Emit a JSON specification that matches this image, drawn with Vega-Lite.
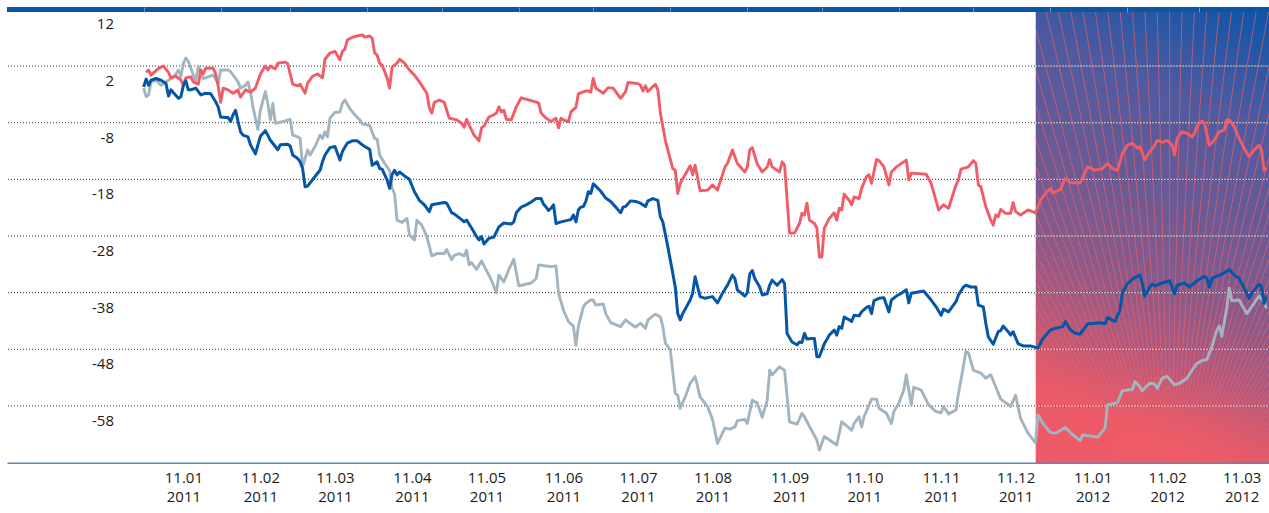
{
  "$schema": "https://vega.github.io/schema/vega-lite/v6.json",
  "width": 1262,
  "height": 453.2,
  "autosize": {"type": "none"},
  "padding": {"left": 7, "top": 9.4, "right": 0, "bottom": 50.4},
  "background": "white",
  "config": {"view": {"stroke": null}, "font": "Open Sans"},
  "datasets": {
    "grid": [{"value": 2}, {"value": -8}, {"value": -18}, {"value": -28}, {"value": -38}, {"value": -48}, {"value": -58}],
    "rays": [
      {"date": "2010-12-25"}, {"date": "2011-01-18"}, {"date": "2011-02-09"}, {"date": "2011-03-01"}, {"date": "2011-03-19"}, {"date": "2011-04-05"}, {"date": "2011-04-21"}, {"date": "2011-05-06"}, {"date": "2011-05-19"}, {"date": "2011-06-01"}, {"date": "2011-06-14"}, {"date": "2011-06-25"}, {"date": "2011-07-06"}, {"date": "2011-07-17"}, {"date": "2011-07-27"}, {"date": "2011-08-05"}, {"date": "2011-08-14"}, {"date": "2011-08-23"}, {"date": "2011-08-31"}, {"date": "2011-09-08"}, {"date": "2011-09-16"}, {"date": "2011-09-24"}, {"date": "2011-10-01"}, {"date": "2011-10-08"}, {"date": "2011-10-15"}, {"date": "2011-10-21"}, {"date": "2011-10-28"}, {"date": "2011-11-03"}, {"date": "2011-11-09"}, {"date": "2011-11-15"}, {"date": "2011-11-21"}, {"date": "2011-11-27"}, {"date": "2011-12-03"}, {"date": "2011-12-08"}, {"date": "2011-12-14"}, {"date": "2011-12-19"}, {"date": "2011-12-24"}, {"date": "2011-12-30"}, {"date": "2012-01-04"}, {"date": "2012-01-09"}, {"date": "2012-01-14"}, {"date": "2012-01-19"}, {"date": "2012-01-24"}, {"date": "2012-01-29"}, {"date": "2012-02-03"}, {"date": "2012-02-08"}, {"date": "2012-02-13"},
      {"date": "2012-02-18"}, {"date": "2012-02-23"}, {"date": "2012-02-28"}, {"date": "2012-03-04"}, {"date": "2012-03-09"}, {"date": "2012-03-14"}, {"date": "2012-03-19"}, {"date": "2012-03-24"}, {"date": "2012-03-29"}, {"date": "2012-04-03"}, {"date": "2012-04-08"}, {"date": "2012-04-14"}, {"date": "2012-04-19"}, {"date": "2012-04-24"}, {"date": "2012-04-30"}, {"date": "2012-05-05"}, {"date": "2012-05-11"}, {"date": "2012-05-17"}, {"date": "2012-05-23"}, {"date": "2012-05-29"}, {"date": "2012-06-04"}, {"date": "2012-06-10"}, {"date": "2012-06-17"}, {"date": "2012-06-23"}, {"date": "2012-06-30"}, {"date": "2012-07-07"}, {"date": "2012-07-14"}, {"date": "2012-07-22"}, {"date": "2012-07-30"}, {"date": "2012-08-07"}, {"date": "2012-08-15"}, {"date": "2012-08-24"}, {"date": "2012-09-02"}, {"date": "2012-09-11"}, {"date": "2012-09-21"}, {"date": "2012-10-02"}, {"date": "2012-10-13"}, {"date": "2012-10-24"}, {"date": "2012-11-06"}, {"date": "2012-11-19"}, {"date": "2012-12-02"}, {"date": "2012-12-17"}
    ],
    "red": [
      {"date": "2011-01-02", "value": 0.9}, {"date": "2011-01-03", "value": 1.3}, {"date": "2011-01-04", "value": 0.4}, {"date": "2011-01-07", "value": 1.6}, {"date": "2011-01-09", "value": 2.0}, {"date": "2011-01-11", "value": 0.9}, {"date": "2011-01-12", "value": -0.1}, {"date": "2011-01-14", "value": 0.2}, {"date": "2011-01-16", "value": -0.5}, {"date": "2011-01-17", "value": -1.4}, {"date": "2011-01-18", "value": -0.1}, {"date": "2011-01-20", "value": 0.1}, {"date": "2011-01-21", "value": -0.8}, {"date": "2011-01-23", "value": -1.2}, {"date": "2011-01-24", "value": 1.3}, {"date": "2011-01-25", "value": 0.6}, {"date": "2011-01-26", "value": 1.6}, {"date": "2011-01-29", "value": 1.6}, {"date": "2011-01-30", "value": 0.6}, {"date": "2011-01-31", "value": -1.5},
      {"date": "2011-02-01", "value": -4.4}, {"date": "2011-02-02", "value": -1.9}, {"date": "2011-02-04", "value": -2.2}, {"date": "2011-02-06", "value": -2.8}, {"date": "2011-02-08", "value": -2.2}, {"date": "2011-02-09", "value": -3.5}, {"date": "2011-02-11", "value": -2.2}, {"date": "2011-02-13", "value": -2.6}, {"date": "2011-02-15", "value": -1.9}, {"date": "2011-02-17", "value": 0.6}, {"date": "2011-02-19", "value": 2.0}, {"date": "2011-02-20", "value": 1.3}, {"date": "2011-02-21", "value": 2.0}, {"date": "2011-02-23", "value": 1.5}, {"date": "2011-02-24", "value": 2.5}, {"date": "2011-02-27", "value": 2.7}, {"date": "2011-02-28", "value": 2.4},
      {"date": "2011-03-02", "value": -1.2}, {"date": "2011-03-04", "value": -1.5}, {"date": "2011-03-05", "value": -1.2}, {"date": "2011-03-07", "value": -2.8}, {"date": "2011-03-08", "value": -1.0}, {"date": "2011-03-10", "value": 0.2}, {"date": "2011-03-12", "value": 0.6}, {"date": "2011-03-14", "value": -0.1}, {"date": "2011-03-15", "value": 3.2}, {"date": "2011-03-17", "value": 4.3}, {"date": "2011-03-19", "value": 4.6}, {"date": "2011-03-21", "value": 3.1}, {"date": "2011-03-22", "value": 4.6}, {"date": "2011-03-23", "value": 5.0}, {"date": "2011-03-24", "value": 6.6}, {"date": "2011-03-26", "value": 7.1}, {"date": "2011-03-28", "value": 7.3}, {"date": "2011-03-30", "value": 7.5}, {"date": "2011-03-31", "value": 7.1},
      {"date": "2011-04-02", "value": 7.3}, {"date": "2011-04-03", "value": 6.9}, {"date": "2011-04-04", "value": 4.3}, {"date": "2011-04-05", "value": 3.9}, {"date": "2011-04-06", "value": 2.5}, {"date": "2011-04-07", "value": 2.2}, {"date": "2011-04-09", "value": -0.1}, {"date": "2011-04-10", "value": -1.9}, {"date": "2011-04-11", "value": 1.8}, {"date": "2011-04-13", "value": 2.5}, {"date": "2011-04-14", "value": 3.2}, {"date": "2011-04-16", "value": 2.5}, {"date": "2011-04-18", "value": 1.3}, {"date": "2011-04-20", "value": 0.4}, {"date": "2011-04-22", "value": -0.8}, {"date": "2011-04-25", "value": -2.8}, {"date": "2011-04-26", "value": -5.4}, {"date": "2011-04-27", "value": -6.3}, {"date": "2011-04-28", "value": -4.4}, {"date": "2011-04-30", "value": -4.0},
      {"date": "2011-05-02", "value": -4.4}, {"date": "2011-05-04", "value": -7.2}, {"date": "2011-05-07", "value": -7.5}, {"date": "2011-05-09", "value": -8.1}, {"date": "2011-05-10", "value": -8.8}, {"date": "2011-05-11", "value": -7.4}, {"date": "2011-05-12", "value": -8.4}, {"date": "2011-05-14", "value": -10.2}, {"date": "2011-05-16", "value": -11.2}, {"date": "2011-05-17", "value": -8.9}, {"date": "2011-05-18", "value": -8.6}, {"date": "2011-05-20", "value": -7.0}, {"date": "2011-05-22", "value": -6.6}, {"date": "2011-05-23", "value": -6.3}, {"date": "2011-05-24", "value": -5.2}, {"date": "2011-05-25", "value": -6.1}, {"date": "2011-05-26", "value": -5.8}, {"date": "2011-05-27", "value": -7.4}, {"date": "2011-05-29", "value": -7.5}, {"date": "2011-05-31", "value": -5.2},
      {"date": "2011-06-02", "value": -3.6}, {"date": "2011-06-06", "value": -4.1}, {"date": "2011-06-09", "value": -4.5}, {"date": "2011-06-10", "value": -6.3}, {"date": "2011-06-12", "value": -7.2}, {"date": "2011-06-14", "value": -7.8}, {"date": "2011-06-16", "value": -7.2}, {"date": "2011-06-17", "value": -8.9}, {"date": "2011-06-18", "value": -7.2}, {"date": "2011-06-19", "value": -7.5}, {"date": "2011-06-21", "value": -7.8}, {"date": "2011-06-22", "value": -6.1}, {"date": "2011-06-24", "value": -5.3}, {"date": "2011-06-25", "value": -2.9}, {"date": "2011-06-28", "value": -2.4}, {"date": "2011-06-29", "value": -2.4}, {"date": "2011-06-30", "value": -2.6},
      {"date": "2011-07-01", "value": -0.2}, {"date": "2011-07-02", "value": -1.9}, {"date": "2011-07-05", "value": -2.8}, {"date": "2011-07-07", "value": -1.8}, {"date": "2011-07-09", "value": -1.9}, {"date": "2011-07-12", "value": -3.7}, {"date": "2011-07-14", "value": -2.5}, {"date": "2011-07-15", "value": -0.9}, {"date": "2011-07-19", "value": -1.1}, {"date": "2011-07-20", "value": -1.4}, {"date": "2011-07-21", "value": -2.4}, {"date": "2011-07-22", "value": -1.5}, {"date": "2011-07-23", "value": -2.5}, {"date": "2011-07-26", "value": -1.2}, {"date": "2011-07-27", "value": -2.2}, {"date": "2011-07-28", "value": -6.3}, {"date": "2011-07-30", "value": -11.1},
      {"date": "2011-08-02", "value": -16.1}, {"date": "2011-08-03", "value": -16.4}, {"date": "2011-08-04", "value": -20.5}, {"date": "2011-08-05", "value": -18.7}, {"date": "2011-08-09", "value": -15.6}, {"date": "2011-08-10", "value": -17.2}, {"date": "2011-08-11", "value": -15.5}, {"date": "2011-08-13", "value": -20.0}, {"date": "2011-08-16", "value": -19.9}, {"date": "2011-08-18", "value": -19.0}, {"date": "2011-08-20", "value": -19.9}, {"date": "2011-08-23", "value": -15.8}, {"date": "2011-08-24", "value": -15.2}, {"date": "2011-08-26", "value": -12.8}, {"date": "2011-08-28", "value": -15.2}, {"date": "2011-08-31", "value": -16.7},
      {"date": "2011-09-01", "value": -15.8}, {"date": "2011-09-02", "value": -12.8}, {"date": "2011-09-03", "value": -12.4}, {"date": "2011-09-05", "value": -15.3}, {"date": "2011-09-07", "value": -16.7}, {"date": "2011-09-09", "value": -15.8}, {"date": "2011-09-10", "value": -14.5}, {"date": "2011-09-11", "value": -15.8}, {"date": "2011-09-14", "value": -16.7}, {"date": "2011-09-15", "value": -14.9}, {"date": "2011-09-16", "value": -15.5}, {"date": "2011-09-18", "value": -27.5}, {"date": "2011-09-20", "value": -27.5}, {"date": "2011-09-22", "value": -25.8}, {"date": "2011-09-23", "value": -24.0}, {"date": "2011-09-24", "value": -24.3}, {"date": "2011-09-25", "value": -22.2}, {"date": "2011-09-26", "value": -25.2}, {"date": "2011-09-28", "value": -25.8}, {"date": "2011-09-29", "value": -26.6}, {"date": "2011-09-30", "value": -31.7},
      {"date": "2011-10-01", "value": -31.7}, {"date": "2011-10-02", "value": -26.6}, {"date": "2011-10-04", "value": -24.9}, {"date": "2011-10-06", "value": -23.9}, {"date": "2011-10-07", "value": -25.2}, {"date": "2011-10-08", "value": -23.1}, {"date": "2011-10-09", "value": -23.4}, {"date": "2011-10-10", "value": -20.6}, {"date": "2011-10-12", "value": -21.7}, {"date": "2011-10-13", "value": -22.5}, {"date": "2011-10-14", "value": -21.1}, {"date": "2011-10-16", "value": -21.4}, {"date": "2011-10-17", "value": -19.6}, {"date": "2011-10-19", "value": -17.5}, {"date": "2011-10-20", "value": -17.2}, {"date": "2011-10-21", "value": -18.7}, {"date": "2011-10-23", "value": -14.5}, {"date": "2011-10-24", "value": -14.7}, {"date": "2011-10-26", "value": -15.8}, {"date": "2011-10-28", "value": -19.0}, {"date": "2011-10-29", "value": -16.7}, {"date": "2011-10-31", "value": -15.8},
      {"date": "2011-11-04", "value": -14.6}, {"date": "2011-11-05", "value": -18.1}, {"date": "2011-11-06", "value": -16.9}, {"date": "2011-11-12", "value": -17.1}, {"date": "2011-11-14", "value": -18.7}, {"date": "2011-11-17", "value": -23.4}, {"date": "2011-11-19", "value": -22.5}, {"date": "2011-11-21", "value": -23.1}, {"date": "2011-11-24", "value": -19.0}, {"date": "2011-11-25", "value": -18.1}, {"date": "2011-11-26", "value": -16.2}, {"date": "2011-11-29", "value": -15.8},
      {"date": "2011-12-01", "value": -14.7}, {"date": "2011-12-02", "value": -15.2}, {"date": "2011-12-03", "value": -19.0}, {"date": "2011-12-04", "value": -19.3}, {"date": "2011-12-06", "value": -22.8}, {"date": "2011-12-08", "value": -25.2}, {"date": "2011-12-09", "value": -26.1}, {"date": "2011-12-10", "value": -24.3}, {"date": "2011-12-11", "value": -24.6}, {"date": "2011-12-12", "value": -23.3}, {"date": "2011-12-14", "value": -24.0}, {"date": "2011-12-16", "value": -24.0}, {"date": "2011-12-17", "value": -22.1}, {"date": "2011-12-18", "value": -23.7}, {"date": "2011-12-20", "value": -24.3}, {"date": "2011-12-23", "value": -23.4}, {"date": "2011-12-26", "value": -23.9}, {"date": "2011-12-28", "value": -21.7}, {"date": "2011-12-30", "value": -20.5},
      {"date": "2012-01-01", "value": -19.6}, {"date": "2012-01-02", "value": -20.4}, {"date": "2012-01-05", "value": -19.8}, {"date": "2012-01-07", "value": -17.8}, {"date": "2012-01-09", "value": -18.6}, {"date": "2012-01-13", "value": -18.6}, {"date": "2012-01-16", "value": -15.8}, {"date": "2012-01-19", "value": -16.4}, {"date": "2012-01-22", "value": -16.1}, {"date": "2012-01-24", "value": -15.2}, {"date": "2012-01-26", "value": -16.1}, {"date": "2012-01-28", "value": -16.4}, {"date": "2012-01-30", "value": -13.4},
      {"date": "2012-02-01", "value": -12.0}, {"date": "2012-02-03", "value": -11.6}, {"date": "2012-02-05", "value": -12.5}, {"date": "2012-02-06", "value": -12.2}, {"date": "2012-02-08", "value": -14.6}, {"date": "2012-02-10", "value": -13.1}, {"date": "2012-02-12", "value": -12.0}, {"date": "2012-02-13", "value": -11.1}, {"date": "2012-02-15", "value": -11.5}, {"date": "2012-02-17", "value": -11.1}, {"date": "2012-02-19", "value": -12.0}, {"date": "2012-02-20", "value": -13.7}, {"date": "2012-02-21", "value": -10.8}, {"date": "2012-02-23", "value": -9.6}, {"date": "2012-02-25", "value": -9.9}, {"date": "2012-02-27", "value": -10.5}, {"date": "2012-02-28", "value": -9.9}, {"date": "2012-02-29", "value": -8.6},
      {"date": "2012-03-02", "value": -7.7}, {"date": "2012-03-03", "value": -8.1}, {"date": "2012-03-05", "value": -12.0}, {"date": "2012-03-07", "value": -11.1}, {"date": "2012-03-09", "value": -9.6}, {"date": "2012-03-11", "value": -9.3}, {"date": "2012-03-12", "value": -7.5}, {"date": "2012-03-13", "value": -7.5}, {"date": "2012-03-15", "value": -8.7}, {"date": "2012-03-17", "value": -10.8}, {"date": "2012-03-19", "value": -12.5}, {"date": "2012-03-21", "value": -14.0}, {"date": "2012-03-23", "value": -12.8}, {"date": "2012-03-25", "value": -12.0}, {"date": "2012-03-26", "value": -12.8}, {"date": "2012-03-27", "value": -16.4}, {"date": "2012-03-28", "value": -16.1}
    ],
    "blue": [
      {"date": "2011-01-01", "value": -1.7}, {"date": "2011-01-02", "value": -0.3}, {"date": "2011-01-03", "value": -1.4}, {"date": "2011-01-04", "value": -0.5}, {"date": "2011-01-06", "value": -0.2}, {"date": "2011-01-08", "value": -0.5}, {"date": "2011-01-10", "value": -1.1}, {"date": "2011-01-11", "value": -3.3}, {"date": "2011-01-12", "value": -2.2}, {"date": "2011-01-13", "value": -2.7}, {"date": "2011-01-15", "value": -3.7}, {"date": "2011-01-16", "value": -3.4}, {"date": "2011-01-17", "value": -1.4}, {"date": "2011-01-18", "value": -0.6}, {"date": "2011-01-19", "value": -2.2}, {"date": "2011-01-20", "value": -2.2}, {"date": "2011-01-22", "value": -1.9}, {"date": "2011-01-24", "value": -3.1}, {"date": "2011-01-26", "value": -2.8}, {"date": "2011-01-28", "value": -2.9}, {"date": "2011-01-30", "value": -4.3}, {"date": "2011-01-31", "value": -5.2},
      {"date": "2011-02-01", "value": -7.0}, {"date": "2011-02-03", "value": -7.1}, {"date": "2011-02-04", "value": -7.1}, {"date": "2011-02-05", "value": -7.8}, {"date": "2011-02-06", "value": -6.6}, {"date": "2011-02-07", "value": -5.8}, {"date": "2011-02-08", "value": -7.8}, {"date": "2011-02-09", "value": -9.6}, {"date": "2011-02-10", "value": -10.2}, {"date": "2011-02-12", "value": -10.5}, {"date": "2011-02-13", "value": -11.9}, {"date": "2011-02-15", "value": -13.5}, {"date": "2011-02-16", "value": -11.9}, {"date": "2011-02-17", "value": -10.4}, {"date": "2011-02-19", "value": -9.4}, {"date": "2011-02-21", "value": -11.1}, {"date": "2011-02-23", "value": -12.2}, {"date": "2011-02-24", "value": -12.8}, {"date": "2011-02-25", "value": -11.9}, {"date": "2011-02-28", "value": -11.8},
      {"date": "2011-03-01", "value": -12.1}, {"date": "2011-03-02", "value": -13.7}, {"date": "2011-03-04", "value": -14.3}, {"date": "2011-03-05", "value": -14.9}, {"date": "2011-03-06", "value": -16.1}, {"date": "2011-03-07", "value": -19.3}, {"date": "2011-03-08", "value": -19.2}, {"date": "2011-03-11", "value": -17.5}, {"date": "2011-03-13", "value": -16.4}, {"date": "2011-03-14", "value": -14.9}, {"date": "2011-03-15", "value": -13.7}, {"date": "2011-03-17", "value": -12.4}, {"date": "2011-03-19", "value": -12.2}, {"date": "2011-03-21", "value": -14.6}, {"date": "2011-03-22", "value": -13.1}, {"date": "2011-03-24", "value": -11.6}, {"date": "2011-03-26", "value": -11.2}, {"date": "2011-03-28", "value": -11.2}, {"date": "2011-03-30", "value": -11.9}, {"date": "2011-03-31", "value": -12.2},
      {"date": "2011-04-02", "value": -12.7}, {"date": "2011-04-03", "value": -15.5}, {"date": "2011-04-05", "value": -14.9}, {"date": "2011-04-06", "value": -16.1}, {"date": "2011-04-07", "value": -16.2}, {"date": "2011-04-09", "value": -18.1}, {"date": "2011-04-10", "value": -19.6}, {"date": "2011-04-11", "value": -17.2}, {"date": "2011-04-12", "value": -16.4}, {"date": "2011-04-13", "value": -17.2}, {"date": "2011-04-14", "value": -16.7}, {"date": "2011-04-16", "value": -17.4}, {"date": "2011-04-18", "value": -18.0}, {"date": "2011-04-20", "value": -20.2}, {"date": "2011-04-22", "value": -21.7}, {"date": "2011-04-24", "value": -22.5}, {"date": "2011-04-26", "value": -23.7}, {"date": "2011-04-27", "value": -22.5},
      {"date": "2011-05-02", "value": -22.1}, {"date": "2011-05-03", "value": -22.2}, {"date": "2011-05-05", "value": -23.9}, {"date": "2011-05-06", "value": -24.1}, {"date": "2011-05-09", "value": -25.1}, {"date": "2011-05-10", "value": -25.5}, {"date": "2011-05-11", "value": -25.2}, {"date": "2011-05-13", "value": -26.6}, {"date": "2011-05-15", "value": -28.1}, {"date": "2011-05-16", "value": -28.7}, {"date": "2011-05-17", "value": -28.1}, {"date": "2011-05-18", "value": -29.4}, {"date": "2011-05-20", "value": -28.4}, {"date": "2011-05-22", "value": -28.2}, {"date": "2011-05-24", "value": -26.4}, {"date": "2011-05-26", "value": -25.7}, {"date": "2011-05-29", "value": -25.9}, {"date": "2011-05-30", "value": -25.5}, {"date": "2011-05-31", "value": -23.9},
      {"date": "2011-06-02", "value": -22.9}, {"date": "2011-06-04", "value": -22.5}, {"date": "2011-06-06", "value": -22.0}, {"date": "2011-06-08", "value": -21.4}, {"date": "2011-06-10", "value": -21.4}, {"date": "2011-06-11", "value": -22.4}, {"date": "2011-06-12", "value": -22.9}, {"date": "2011-06-13", "value": -23.5}, {"date": "2011-06-14", "value": -23.1}, {"date": "2011-06-15", "value": -22.5}, {"date": "2011-06-16", "value": -25.8}, {"date": "2011-06-18", "value": -25.5}, {"date": "2011-06-21", "value": -25.2}, {"date": "2011-06-22", "value": -25.1}, {"date": "2011-06-23", "value": -24.3}, {"date": "2011-06-24", "value": -25.5}, {"date": "2011-06-25", "value": -23.4}, {"date": "2011-06-26", "value": -22.9}, {"date": "2011-06-27", "value": -22.8}, {"date": "2011-06-28", "value": -21.9}, {"date": "2011-06-29", "value": -20.2}, {"date": "2011-06-30", "value": -20.5},
      {"date": "2011-07-01", "value": -18.8}, {"date": "2011-07-02", "value": -19.2}, {"date": "2011-07-04", "value": -20.1}, {"date": "2011-07-05", "value": -20.7}, {"date": "2011-07-06", "value": -21.3}, {"date": "2011-07-08", "value": -21.9}, {"date": "2011-07-10", "value": -22.9}, {"date": "2011-07-12", "value": -23.9}, {"date": "2011-07-13", "value": -22.9}, {"date": "2011-07-14", "value": -22.8}, {"date": "2011-07-16", "value": -21.8}, {"date": "2011-07-18", "value": -21.9}, {"date": "2011-07-20", "value": -22.2}, {"date": "2011-07-22", "value": -22.8}, {"date": "2011-07-23", "value": -21.8}, {"date": "2011-07-25", "value": -21.4}, {"date": "2011-07-27", "value": -21.7}, {"date": "2011-07-28", "value": -24.6}, {"date": "2011-07-29", "value": -25.5}, {"date": "2011-07-31", "value": -29.9},
      {"date": "2011-08-02", "value": -34.6}, {"date": "2011-08-03", "value": -37.0}, {"date": "2011-08-04", "value": -41.7}, {"date": "2011-08-05", "value": -42.8}, {"date": "2011-08-06", "value": -41.7}, {"date": "2011-08-09", "value": -39.3}, {"date": "2011-08-10", "value": -38.1}, {"date": "2011-08-11", "value": -35.2}, {"date": "2011-08-13", "value": -38.7}, {"date": "2011-08-15", "value": -39.0}, {"date": "2011-08-18", "value": -38.7}, {"date": "2011-08-20", "value": -39.8}, {"date": "2011-08-22", "value": -38.1}, {"date": "2011-08-24", "value": -36.7}, {"date": "2011-08-26", "value": -34.9}, {"date": "2011-08-27", "value": -35.5}, {"date": "2011-08-28", "value": -37.5}, {"date": "2011-08-31", "value": -38.6},
      {"date": "2011-09-01", "value": -38.0}, {"date": "2011-09-02", "value": -34.7}, {"date": "2011-09-03", "value": -34.1}, {"date": "2011-09-04", "value": -35.5}, {"date": "2011-09-06", "value": -37.0}, {"date": "2011-09-07", "value": -38.4}, {"date": "2011-09-09", "value": -38.2}, {"date": "2011-09-10", "value": -36.7}, {"date": "2011-09-11", "value": -35.8}, {"date": "2011-09-13", "value": -36.7}, {"date": "2011-09-15", "value": -35.7}, {"date": "2011-09-16", "value": -36.4}, {"date": "2011-09-17", "value": -45.2}, {"date": "2011-09-19", "value": -46.7}, {"date": "2011-09-21", "value": -47.2}, {"date": "2011-09-22", "value": -46.7}, {"date": "2011-09-23", "value": -46.8}, {"date": "2011-09-24", "value": -45.2}, {"date": "2011-09-25", "value": -46.2}, {"date": "2011-09-27", "value": -46.1}, {"date": "2011-09-28", "value": -46.1}, {"date": "2011-09-29", "value": -49.3}, {"date": "2011-09-30", "value": -49.3},
      {"date": "2011-10-02", "value": -47.0}, {"date": "2011-10-04", "value": -45.5}, {"date": "2011-10-06", "value": -44.6}, {"date": "2011-10-07", "value": -45.5}, {"date": "2011-10-08", "value": -44.0}, {"date": "2011-10-09", "value": -44.3}, {"date": "2011-10-10", "value": -42.3}, {"date": "2011-10-12", "value": -42.8}, {"date": "2011-10-13", "value": -43.1}, {"date": "2011-10-14", "value": -42.0}, {"date": "2011-10-16", "value": -42.1}, {"date": "2011-10-17", "value": -41.4}, {"date": "2011-10-19", "value": -40.6}, {"date": "2011-10-20", "value": -40.4}, {"date": "2011-10-21", "value": -41.7}, {"date": "2011-10-22", "value": -39.4}, {"date": "2011-10-24", "value": -39.0}, {"date": "2011-10-26", "value": -38.9}, {"date": "2011-10-28", "value": -41.4}, {"date": "2011-10-29", "value": -39.3}, {"date": "2011-10-31", "value": -38.6},
      {"date": "2011-11-02", "value": -38.1}, {"date": "2011-11-04", "value": -37.5}, {"date": "2011-11-05", "value": -39.8}, {"date": "2011-11-06", "value": -38.1}, {"date": "2011-11-11", "value": -37.7}, {"date": "2011-11-14", "value": -39.3}, {"date": "2011-11-16", "value": -40.5}, {"date": "2011-11-18", "value": -42.0}, {"date": "2011-11-19", "value": -40.9}, {"date": "2011-11-21", "value": -41.4}, {"date": "2011-11-24", "value": -39.6}, {"date": "2011-11-25", "value": -38.4}, {"date": "2011-11-27", "value": -37.0}, {"date": "2011-11-28", "value": -36.7}, {"date": "2011-11-30", "value": -37.0},
      {"date": "2011-12-02", "value": -37.0}, {"date": "2011-12-03", "value": -40.2}, {"date": "2011-12-05", "value": -40.5}, {"date": "2011-12-06", "value": -43.4}, {"date": "2011-12-07", "value": -45.8}, {"date": "2011-12-09", "value": -47.1}, {"date": "2011-12-11", "value": -44.9}, {"date": "2011-12-12", "value": -44.7}, {"date": "2011-12-13", "value": -43.9}, {"date": "2011-12-15", "value": -44.9}, {"date": "2011-12-16", "value": -45.5}, {"date": "2011-12-17", "value": -44.9}, {"date": "2011-12-19", "value": -47.0}, {"date": "2011-12-21", "value": -47.4}, {"date": "2011-12-24", "value": -47.4}, {"date": "2011-12-27", "value": -47.8}, {"date": "2011-12-29", "value": -46.1},
      {"date": "2012-01-01", "value": -44.6}, {"date": "2012-01-03", "value": -44.3}, {"date": "2012-01-06", "value": -44.0}, {"date": "2012-01-07", "value": -43.1}, {"date": "2012-01-09", "value": -44.5}, {"date": "2012-01-11", "value": -45.2}, {"date": "2012-01-13", "value": -45.3}, {"date": "2012-01-16", "value": -43.5}, {"date": "2012-01-19", "value": -43.4}, {"date": "2012-01-21", "value": -43.3}, {"date": "2012-01-23", "value": -43.5}, {"date": "2012-01-24", "value": -42.4}, {"date": "2012-01-27", "value": -43.1}, {"date": "2012-01-29", "value": -41.1}, {"date": "2012-01-30", "value": -38.0},
      {"date": "2012-02-01", "value": -36.4}, {"date": "2012-02-03", "value": -35.7}, {"date": "2012-02-04", "value": -35.3}, {"date": "2012-02-06", "value": -34.9}, {"date": "2012-02-07", "value": -36.4}, {"date": "2012-02-08", "value": -38.6}, {"date": "2012-02-10", "value": -37.0}, {"date": "2012-02-11", "value": -36.5}, {"date": "2012-02-12", "value": -36.8}, {"date": "2012-02-15", "value": -36.3}, {"date": "2012-02-18", "value": -35.9}, {"date": "2012-02-20", "value": -38.2}, {"date": "2012-02-21", "value": -36.7}, {"date": "2012-02-24", "value": -36.3}, {"date": "2012-02-26", "value": -37.0}, {"date": "2012-02-29", "value": -35.9},
      {"date": "2012-03-03", "value": -35.1}, {"date": "2012-03-04", "value": -35.5}, {"date": "2012-03-05", "value": -37.0}, {"date": "2012-03-06", "value": -35.5}, {"date": "2012-03-09", "value": -34.9}, {"date": "2012-03-11", "value": -34.5}, {"date": "2012-03-13", "value": -33.9}, {"date": "2012-03-15", "value": -34.9}, {"date": "2012-03-17", "value": -35.5}, {"date": "2012-03-19", "value": -37.2}, {"date": "2012-03-21", "value": -39.0}, {"date": "2012-03-22", "value": -38.1}, {"date": "2012-03-25", "value": -36.5}, {"date": "2012-03-26", "value": -37.0}, {"date": "2012-03-27", "value": -39.9}, {"date": "2012-03-28", "value": -38.7}
    ],
    "gray": [
      {"date": "2011-01-01", "value": -1.9}, {"date": "2011-01-02", "value": -3.4}, {"date": "2011-01-03", "value": -3.1}, {"date": "2011-01-04", "value": -0.8}, {"date": "2011-01-06", "value": -0.5}, {"date": "2011-01-08", "value": -1.4}, {"date": "2011-01-10", "value": -0.8}, {"date": "2011-01-12", "value": -0.2}, {"date": "2011-01-14", "value": 0.6}, {"date": "2011-01-15", "value": 1.3}, {"date": "2011-01-16", "value": 0.1}, {"date": "2011-01-17", "value": 2.5}, {"date": "2011-01-18", "value": 3.4}, {"date": "2011-01-19", "value": 2.8}, {"date": "2011-01-21", "value": 0.4}, {"date": "2011-01-22", "value": -0.5}, {"date": "2011-01-23", "value": 1.9}, {"date": "2011-01-25", "value": -0.2}, {"date": "2011-01-27", "value": 0.1}, {"date": "2011-01-29", "value": 0.4}, {"date": "2011-01-31", "value": -1.1},
      {"date": "2011-02-01", "value": 1.3}, {"date": "2011-02-04", "value": 1.3}, {"date": "2011-02-05", "value": 1.0}, {"date": "2011-02-07", "value": -0.2}, {"date": "2011-02-08", "value": -0.8}, {"date": "2011-02-09", "value": -1.9}, {"date": "2011-02-11", "value": -1.4}, {"date": "2011-02-12", "value": -0.8}, {"date": "2011-02-13", "value": -2.5}, {"date": "2011-02-14", "value": -5.2}, {"date": "2011-02-16", "value": -9.2}, {"date": "2011-02-17", "value": -5.8}, {"date": "2011-02-19", "value": -2.5}, {"date": "2011-02-20", "value": -4.6}, {"date": "2011-02-21", "value": -7.5}, {"date": "2011-02-22", "value": -4.6}, {"date": "2011-02-23", "value": -8.1}, {"date": "2011-02-26", "value": -7.8},
      {"date": "2011-03-01", "value": -7.4}, {"date": "2011-03-02", "value": -10.2}, {"date": "2011-03-04", "value": -10.5}, {"date": "2011-03-05", "value": -10.8}, {"date": "2011-03-06", "value": -15.8}, {"date": "2011-03-08", "value": -12.8}, {"date": "2011-03-09", "value": -13.7}, {"date": "2011-03-11", "value": -12.2}, {"date": "2011-03-13", "value": -10.2}, {"date": "2011-03-14", "value": -10.8}, {"date": "2011-03-15", "value": -9.6}, {"date": "2011-03-16", "value": -10.5}, {"date": "2011-03-17", "value": -7.2}, {"date": "2011-03-19", "value": -6.2}, {"date": "2011-03-21", "value": -6.1}, {"date": "2011-03-22", "value": -4.6}, {"date": "2011-03-23", "value": -4.0}, {"date": "2011-03-25", "value": -5.5}, {"date": "2011-03-27", "value": -6.6}, {"date": "2011-03-29", "value": -7.5}, {"date": "2011-03-30", "value": -8.2},
      {"date": "2011-04-02", "value": -8.5}, {"date": "2011-04-04", "value": -10.8}, {"date": "2011-04-05", "value": -10.9}, {"date": "2011-04-06", "value": -13.7}, {"date": "2011-04-08", "value": -15.2}, {"date": "2011-04-10", "value": -16.4}, {"date": "2011-04-11", "value": -19.6}, {"date": "2011-04-12", "value": -20.5}, {"date": "2011-04-13", "value": -25.2}, {"date": "2011-04-15", "value": -25.6}, {"date": "2011-04-17", "value": -24.9}, {"date": "2011-04-18", "value": -27.8}, {"date": "2011-04-20", "value": -28.7}, {"date": "2011-04-21", "value": -25.2}, {"date": "2011-04-23", "value": -26.1}, {"date": "2011-04-25", "value": -28.1}, {"date": "2011-04-27", "value": -31.5}, {"date": "2011-04-29", "value": -31.1},
      {"date": "2011-05-02", "value": -31.1}, {"date": "2011-05-03", "value": -30.4}, {"date": "2011-05-05", "value": -32.2}, {"date": "2011-05-06", "value": -31.4}, {"date": "2011-05-08", "value": -31.1}, {"date": "2011-05-10", "value": -31.5}, {"date": "2011-05-11", "value": -30.5}, {"date": "2011-05-12", "value": -33.1}, {"date": "2011-05-13", "value": -32.7}, {"date": "2011-05-15", "value": -33.9}, {"date": "2011-05-17", "value": -32.4}, {"date": "2011-05-19", "value": -34.1}, {"date": "2011-05-21", "value": -35.8}, {"date": "2011-05-23", "value": -38.0}, {"date": "2011-05-24", "value": -34.9}, {"date": "2011-05-26", "value": -36.1}, {"date": "2011-05-28", "value": -33.9}, {"date": "2011-05-30", "value": -32.1},
      {"date": "2011-06-01", "value": -36.8}, {"date": "2011-06-02", "value": -36.7}, {"date": "2011-06-06", "value": -36.3}, {"date": "2011-06-08", "value": -35.5}, {"date": "2011-06-09", "value": -33.1}, {"date": "2011-06-12", "value": -33.3}, {"date": "2011-06-14", "value": -33.4}, {"date": "2011-06-16", "value": -33.3}, {"date": "2011-06-17", "value": -38.1}, {"date": "2011-06-19", "value": -41.1}, {"date": "2011-06-21", "value": -43.1}, {"date": "2011-06-23", "value": -43.9}, {"date": "2011-06-24", "value": -47.3}, {"date": "2011-06-25", "value": -43.9}, {"date": "2011-06-27", "value": -40.5}, {"date": "2011-06-28", "value": -39.9}, {"date": "2011-06-30", "value": -39.3},
      {"date": "2011-07-01", "value": -39.3}, {"date": "2011-07-02", "value": -40.2}, {"date": "2011-07-05", "value": -40.0}, {"date": "2011-07-06", "value": -41.7}, {"date": "2011-07-08", "value": -43.3}, {"date": "2011-07-12", "value": -44.0}, {"date": "2011-07-14", "value": -42.8}, {"date": "2011-07-16", "value": -43.5}, {"date": "2011-07-18", "value": -44.1}, {"date": "2011-07-20", "value": -43.4}, {"date": "2011-07-22", "value": -44.3}, {"date": "2011-07-23", "value": -42.8}, {"date": "2011-07-26", "value": -41.8}, {"date": "2011-07-28", "value": -42.3}, {"date": "2011-07-29", "value": -44.0}, {"date": "2011-07-30", "value": -46.9},
      {"date": "2011-08-01", "value": -48.1}, {"date": "2011-08-03", "value": -55.8}, {"date": "2011-08-04", "value": -56.1}, {"date": "2011-08-05", "value": -58.4}, {"date": "2011-08-07", "value": -56.4}, {"date": "2011-08-09", "value": -54.0}, {"date": "2011-08-11", "value": -52.8}, {"date": "2011-08-13", "value": -56.4}, {"date": "2011-08-16", "value": -58.1}, {"date": "2011-08-18", "value": -60.4}, {"date": "2011-08-20", "value": -64.6}, {"date": "2011-08-23", "value": -61.9}, {"date": "2011-08-25", "value": -62.1}, {"date": "2011-08-27", "value": -61.7}, {"date": "2011-08-28", "value": -60.6}, {"date": "2011-08-31", "value": -60.4},
      {"date": "2011-09-01", "value": -61.1}, {"date": "2011-09-03", "value": -57.0}, {"date": "2011-09-05", "value": -57.5}, {"date": "2011-09-07", "value": -60.0}, {"date": "2011-09-09", "value": -57.0}, {"date": "2011-09-10", "value": -51.7}, {"date": "2011-09-11", "value": -52.5}, {"date": "2011-09-14", "value": -51.1}, {"date": "2011-09-16", "value": -51.7}, {"date": "2011-09-18", "value": -60.8}, {"date": "2011-09-21", "value": -61.2}, {"date": "2011-09-23", "value": -59.3}, {"date": "2011-09-24", "value": -59.9}, {"date": "2011-09-26", "value": -61.6}, {"date": "2011-09-29", "value": -64.0}, {"date": "2011-09-30", "value": -65.8},
      {"date": "2011-10-02", "value": -63.4}, {"date": "2011-10-03", "value": -63.7}, {"date": "2011-10-07", "value": -64.9}, {"date": "2011-10-09", "value": -60.8}, {"date": "2011-10-11", "value": -61.5}, {"date": "2011-10-13", "value": -62.3}, {"date": "2011-10-14", "value": -61.1}, {"date": "2011-10-16", "value": -59.9}, {"date": "2011-10-17", "value": -61.7}, {"date": "2011-10-18", "value": -59.9}, {"date": "2011-10-21", "value": -56.8}, {"date": "2011-10-23", "value": -56.8}, {"date": "2011-10-24", "value": -58.4}, {"date": "2011-10-27", "value": -59.3}, {"date": "2011-10-29", "value": -61.1}, {"date": "2011-10-30", "value": -59.0},
      {"date": "2011-11-01", "value": -57.5}, {"date": "2011-11-03", "value": -55.2}, {"date": "2011-11-04", "value": -52.5}, {"date": "2011-11-05", "value": -55.2}, {"date": "2011-11-06", "value": -57.8}, {"date": "2011-11-07", "value": -54.7}, {"date": "2011-11-10", "value": -55.2}, {"date": "2011-11-13", "value": -57.8}, {"date": "2011-11-16", "value": -59.0}, {"date": "2011-11-18", "value": -59.2}, {"date": "2011-11-19", "value": -58.1}, {"date": "2011-11-21", "value": -59.4}, {"date": "2011-11-24", "value": -58.7}, {"date": "2011-11-25", "value": -55.8}, {"date": "2011-11-26", "value": -53.4}, {"date": "2011-11-28", "value": -48.4}, {"date": "2011-11-29", "value": -48.6},
      {"date": "2011-12-01", "value": -51.7}, {"date": "2011-12-04", "value": -52.2}, {"date": "2011-12-06", "value": -53.1}, {"date": "2011-12-08", "value": -52.5}, {"date": "2011-12-10", "value": -54.6}, {"date": "2011-12-12", "value": -56.8}, {"date": "2011-12-16", "value": -58.1}, {"date": "2011-12-18", "value": -56.1}, {"date": "2011-12-20", "value": -60.2}, {"date": "2011-12-23", "value": -62.8}, {"date": "2011-12-26", "value": -64.5}, {"date": "2011-12-27", "value": -59.6}, {"date": "2011-12-29", "value": -61.1},
      {"date": "2012-01-01", "value": -62.7}, {"date": "2012-01-03", "value": -62.8}, {"date": "2012-01-07", "value": -61.8}, {"date": "2012-01-10", "value": -63.1}, {"date": "2012-01-13", "value": -64.1}, {"date": "2012-01-14", "value": -63.1}, {"date": "2012-01-20", "value": -63.5}, {"date": "2012-01-23", "value": -61.9}, {"date": "2012-01-24", "value": -57.8}, {"date": "2012-01-28", "value": -57.4}, {"date": "2012-01-30", "value": -55.3},
      {"date": "2012-02-03", "value": -55.1}, {"date": "2012-02-04", "value": -53.7}, {"date": "2012-02-06", "value": -54.6}, {"date": "2012-02-07", "value": -55.3}, {"date": "2012-02-10", "value": -54.0}, {"date": "2012-02-12", "value": -54.1}, {"date": "2012-02-13", "value": -54.9}, {"date": "2012-02-15", "value": -53.1}, {"date": "2012-02-17", "value": -52.8}, {"date": "2012-02-20", "value": -54.3}, {"date": "2012-02-22", "value": -54.0}, {"date": "2012-02-25", "value": -53.1}, {"date": "2012-02-27", "value": -51.7}, {"date": "2012-02-29", "value": -50.5},
      {"date": "2012-03-02", "value": -50.0}, {"date": "2012-03-04", "value": -49.8}, {"date": "2012-03-06", "value": -47.5}, {"date": "2012-03-08", "value": -44.6}, {"date": "2012-03-09", "value": -43.9}, {"date": "2012-03-10", "value": -45.7}, {"date": "2012-03-12", "value": -40.6}, {"date": "2012-03-13", "value": -37.2}, {"date": "2012-03-14", "value": -39.4}, {"date": "2012-03-17", "value": -39.3}, {"date": "2012-03-20", "value": -41.7}, {"date": "2012-03-22", "value": -40.5}, {"date": "2012-03-25", "value": -38.6}, {"date": "2012-03-27", "value": -39.6}, {"date": "2012-03-28", "value": -40.8}
    ]
  },
  "layer": [
    {
      "data": {"values": [{"start": "2011-12-26", "end": "2012-03-29"}]},
      "mark": {
        "type": "rect",
        "fill": {
          "gradient": "linear",
          "x1": 1, "y1": 0, "x2": 0.8, "y2": 1,
          "stops": [
            {"offset": 0, "color": "#0a55a8"},
            {"offset": 0.25, "color": "#4f5aa0"},
            {"offset": 0.5, "color": "#6d5a94"},
            {"offset": 0.68, "color": "#8a5a8a"},
            {"offset": 0.82, "color": "#b05a7e"},
            {"offset": 0.93, "color": "#d85a6e"},
            {"offset": 1, "color": "#ec5a67"}
          ]
        }
      },
      "encoding": {
        "x": {
          "field": "start", "type": "temporal",
          "scale": {"type": "utc", "domain": [{"year": 2010, "month": 11, "date": 7, "utc": true}, {"year": 2012, "month": 3, "date": 29, "utc": true}]},
          "axis": {
            "orient": "top", "title": null, "domain": false, "labels": false, "grid": false,
            "ticks": true, "tickColor": "#6f96cc", "tickSize": 5, "tickWidth": 1, "offset": -2.6, "zindex": 1,
            "values": [
              {"year": 2011, "month": 1, "date": 1, "utc": true}, {"year": 2011, "month": 2, "date": 1, "utc": true}, {"year": 2011, "month": 3, "date": 1, "utc": true},
              {"year": 2011, "month": 4, "date": 1, "utc": true}, {"year": 2011, "month": 5, "date": 1, "utc": true}, {"year": 2011, "month": 6, "date": 1, "utc": true},
              {"year": 2011, "month": 7, "date": 1, "utc": true}, {"year": 2011, "month": 8, "date": 1, "utc": true}, {"year": 2011, "month": 9, "date": 1, "utc": true},
              {"year": 2011, "month": 10, "date": 1, "utc": true}, {"year": 2011, "month": 11, "date": 1, "utc": true}, {"year": 2011, "month": 12, "date": 1, "utc": true},
              {"year": 2012, "month": 1, "date": 1, "utc": true}, {"year": 2012, "month": 2, "date": 1, "utc": true}, {"year": 2012, "month": 3, "date": 1, "utc": true}
            ]
          }
        },
        "x2": {"field": "end"},
        "y": {"datum": 12, "type": "quantitative", "scale": {"domain": [-68, 12], "nice": false, "zero": false}, "axis": null},
        "y2": {"datum": -68}
      }
    },
    {
      "data": {"name": "rays"},
      "mark": {"type": "rule", "color": "#f2606a", "strokeWidth": 1, "opacity": 0.65, "clip": true},
      "encoding": {
        "x": {"field": "date", "type": "temporal", "scale": {"type": "utc", "domain": [{"year": 2010, "month": 11, "date": 7, "utc": true}, {"year": 2012, "month": 3, "date": 29, "utc": true}]}, "axis": null},
        "x2": {"datum": {"year": 2012, "month": 2, "date": 18, "utc": true}},
        "y": {"datum": 12, "type": "quantitative", "scale": {"domain": [-68, 12], "nice": false, "zero": false}, "axis": null},
        "y2": {"datum": -79.9}
      }
    },
    {
      "data": {"values": [{"start": "2010-11-07", "end": "2011-12-26"}]},
      "mark": {"type": "rect", "fill": "#ffffff"},
      "encoding": {
        "x": {"field": "start", "type": "temporal", "scale": {"type": "utc", "domain": [{"year": 2010, "month": 11, "date": 7, "utc": true}, {"year": 2012, "month": 3, "date": 29, "utc": true}]}, "axis": null},
        "x2": {"field": "end"},
        "y": {"datum": 12, "type": "quantitative", "scale": {"domain": [-68, 12], "nice": false, "zero": false}, "axis": null},
        "y2": {"datum": -68}
      }
    },
    {
      "data": {"name": "grid"},
      "mark": {"type": "rule", "color": "#ffffff", "opacity": 0.7, "strokeWidth": 1},
      "encoding": {
        "x": {"datum": {"year": 2011, "month": 12, "date": 26, "utc": true}, "type": "temporal", "scale": {"type": "utc", "domain": [{"year": 2010, "month": 11, "date": 7, "utc": true}, {"year": 2012, "month": 3, "date": 29, "utc": true}]}, "axis": null},
        "x2": {"datum": {"year": 2012, "month": 3, "date": 29, "utc": true}},
        "y": {"field": "value", "type": "quantitative", "scale": {"domain": [-68, 12], "nice": false, "zero": false}, "axis": null}
      }
    },
    {
      "data": {"name": "grid"},
      "mark": {"type": "rule", "color": "#2a2a2a", "strokeWidth": 1, "strokeDash": [1, 2]},
      "encoding": {
        "y": {"field": "value", "type": "quantitative", "scale": {"domain": [-68, 12], "nice": false, "zero": false}, "axis": null}
      }
    },
    {
      "data": {"name": "gray"},
      "mark": {"type": "line", "color": "#a3b4c1", "strokeWidth": 2.9, "strokeJoin": "round", "clip": true},
      "encoding": {
        "x": {"field": "date", "type": "temporal", "scale": {"type": "utc", "domain": [{"year": 2010, "month": 11, "date": 7, "utc": true}, {"year": 2012, "month": 3, "date": 29, "utc": true}]}, "axis": null},
        "y": {"field": "value", "type": "quantitative", "scale": {"domain": [-68, 12], "nice": false, "zero": false}, "axis": null}
      }
    },
    {
      "data": {"name": "red"},
      "mark": {"type": "line", "color": "#f05c67", "strokeWidth": 2.9, "strokeJoin": "round", "clip": true},
      "encoding": {
        "x": {"field": "date", "type": "temporal", "scale": {"type": "utc", "domain": [{"year": 2010, "month": 11, "date": 7, "utc": true}, {"year": 2012, "month": 3, "date": 29, "utc": true}]}, "axis": null},
        "y": {"field": "value", "type": "quantitative", "scale": {"domain": [-68, 12], "nice": false, "zero": false}, "axis": null}
      }
    },
    {
      "data": {"name": "blue"},
      "mark": {"type": "line", "color": "#0556a6", "strokeWidth": 3, "strokeJoin": "round", "clip": true},
      "encoding": {
        "x": {
          "field": "date", "type": "temporal",
          "scale": {"type": "utc", "domain": [{"year": 2010, "month": 11, "date": 7, "utc": true}, {"year": 2012, "month": 3, "date": 29, "utc": true}]},
          "axis": {
            "orient": "bottom", "title": null, "grid": false, "ticks": false,
            "domain": true, "domainColor": "#2161aa", "domainWidth": 1.5,
            "labelExpr": "['11.' + utcFormat(datum.value, '%m'), utcFormat(datum.value, '%Y')]",
            "labelFont": "Open Sans", "labelFontSize": 15, "labelColor": "#1a1a1a",
            "labelLineHeight": 19, "labelPadding": 8, "labelBaseline": "top", "labelAlign": "center",
            "labelFlush": false, "labelOverlap": false, "labelBound": false,
            "values": [
              {"year": 2011, "month": 1, "date": 17, "utc": true}, {"year": 2011, "month": 2, "date": 17, "utc": true}, {"year": 2011, "month": 3, "date": 19, "utc": true},
              {"year": 2011, "month": 4, "date": 19, "utc": true}, {"year": 2011, "month": 5, "date": 19, "utc": true}, {"year": 2011, "month": 6, "date": 19, "utc": true},
              {"year": 2011, "month": 7, "date": 19, "utc": true}, {"year": 2011, "month": 8, "date": 18, "utc": true}, {"year": 2011, "month": 9, "date": 18, "utc": true},
              {"year": 2011, "month": 10, "date": 18, "utc": true}, {"year": 2011, "month": 11, "date": 18, "utc": true}, {"year": 2011, "month": 12, "date": 18, "utc": true},
              {"year": 2012, "month": 1, "date": 18, "utc": true}, {"year": 2012, "month": 2, "date": 17, "utc": true}, {"year": 2012, "month": 3, "date": 18, "utc": true}
            ]
          }
        },
        "y": {
          "field": "value", "type": "quantitative",
          "scale": {"domain": [-68, 12], "nice": false, "zero": false},
          "axis": {
            "title": null, "grid": false, "ticks": false, "domain": false, "zindex": 1,
            "values": [12, 2, -8, -18, -28, -38, -48, -58],
            "labelExpr": "'' + datum.value",
            "labelFont": "Open Sans", "labelFontSize": 15, "labelColor": "#1a1a1a",
            "labelAlign": "right", "labelBaseline": "middle", "labelPadding": -106.5, "labelOffset": 14.5
          }
        }
      }
    },
    {
      "data": {"values": [{"value": 12}]},
      "mark": {"type": "rule", "color": "#0a55a5", "strokeWidth": 5},
      "encoding": {
        "y": {"field": "value", "type": "quantitative", "scale": {"domain": [-68, 12], "nice": false, "zero": false}, "axis": null}
      }
    }
  ],
  "resolve": {"axis": {"x": "independent", "y": "independent"}}
}
